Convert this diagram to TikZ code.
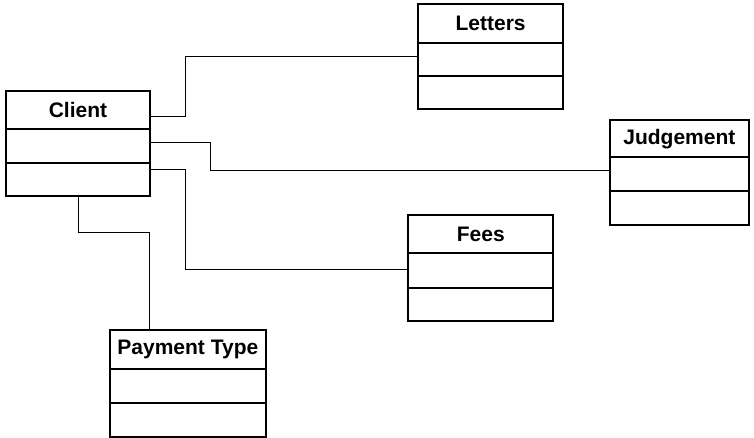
\documentclass[tikz,border=0pt]{standalone}
\usepackage{fontspec}
\setmainfont{Liberation Sans}
\usetikzlibrary{calc}

\tikzset{
  classbox/.style={draw, line width=2pt, inner sep=0pt, outer sep=0pt, anchor=north west},
  classname/.style={font=\bfseries\fontsize{21}{25}\selectfont, inner sep=0pt},
  divider/.style={line width=2pt},
  link/.style={line width=1pt},
}

% #1 name, #2 x, #3 y (top left), #4 width, #5 height,
% #6 depth of the title row, #7 depth of the second divider, #8 title
\newcommand\umlclass[8]{%
  \node[classbox, minimum width=#4pt, minimum height=#5pt] (#1) at (#2,#3) {};
  \draw[divider] ([yshift=-#6pt]#1.north west) -- ([yshift=-#6pt]#1.north east);
  \draw[divider] ([yshift=-#7pt]#1.north west) -- ([yshift=-#7pt]#1.north east);
  \node[classname] (#1-title) at ($(#1.north)+(0,#6/2)$) {#8};
}

\begin{document}
\begin{tikzpicture}[x=1pt, y=-1pt]
  \useasboundingbox (0,0) rectangle (754,438);

  \umlclass{client}{6}{90.7}{144}{105.3}{38}{72}{Client}
  \umlclass{letters}{418.3}{4}{144.7}{105.3}{38.7}{72}{Letters}
  \umlclass{judgement}{610}{120}{138.7}{105}{37.3}{70.7}{Judgement}
  \umlclass{fees}{408.3}{215}{145}{105.7}{38.3}{72.7}{Fees}
  \umlclass{payment}{110}{330}{155.7}{107.3}{39}{72.7}{Payment Type}

  % associations
  \draw[link] ([yshift=-26pt]client.north east) -- ++(35.3,0)
              |- ([yshift=-52.7pt]letters.north west);
  \draw[link] ([yshift=-52pt]client.north east) -- ++(60,0)
              |- ([yshift=-50.7pt]judgement.north west);
  \draw[link] ([yshift=-78.6pt]client.north east) -- ++(35.3,0)
              |- ([yshift=-54.3pt]fees.north west);
  \draw[link] ([xshift=72pt]client.south west) -- ++(0,36.3)
              -| ([xshift=39.3pt]payment.north west);
\end{tikzpicture}
\end{document}
